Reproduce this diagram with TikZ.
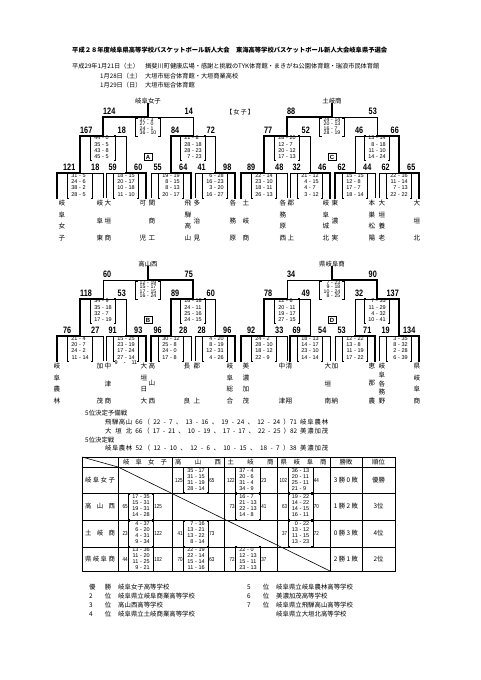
\documentclass[tikz,border=0pt]{standalone}
\usepackage{fontspec}
\usepackage{array}
\setmainfont{Liberation Sans}
\newfontfamily\jp{Noto Sans CJK JP}
\newfontfamily\cnd[FakeStretch=0.78]{Liberation Sans}
\newcolumntype{Q}{>{\setbox0=\hbox to 6.2pt\bgroup\hfil}l<{\egroup\ht0=0pt\dp0=0pt\box0}}
\newcolumntype{W}{>{\setbox0=\hbox to 6.2pt\bgroup}l<{\hfil\egroup\ht0=0pt\dp0=0pt\box0}}
\newcommand\stab[1]{\begin{tabular}{@{}Q@{\hspace{1.7pt}-\hspace{1.7pt}}W@{}}#1\end{tabular}}
\newcounter{nd}
\newcommand\tnode[3][]{\stepcounter{nd}\node[#1] (q\arabic{nd}) at (#2) {#3};}
% match lines: xL xR yh yb winner(0/1)
\newcommand\mt[5]{%
  \draw[thinl] (#1,#4) -- (#1,#3) -- (#2,#3) -- (#2,#4);
  \pgfmathsetmacro\mtw{#1+#5*(#2-#1)}%
  \pgfmathsetmacro\mtm{(#1+#2)/2}%
  \draw[thickl] (\mtw,#4) -- (\mtw,#3) -- (\mtm,#3);}
\newcommand\sL[3]{\tnode[scr,anchor=base west]{#1,#2}{#3}}
\newcommand\sR[3]{\tnode[scr,anchor=base east]{#1,#2}{#3}}
\newcommand\setb[4][setb]{%
  \stepcounter{nd}\edef\sbn{s\arabic{nd}}%
  \node[#1] (\sbn) at (#2,#3) {\stab{#4}};
  \draw[brk] ([xshift=2pt]\sbn.north west) -- (\sbn.north west) -- (\sbn.south west) -- ([xshift=2pt]\sbn.south west);
  \draw[brk] ([xshift=-2pt]\sbn.north east) -- (\sbn.north east) -- (\sbn.south east) -- ([xshift=-2pt]\sbn.south east);}
\newcommand\vname[2]{%
  \foreach \c [count=\i] in {#2} {\xdef\vnN{\i}}%
  \foreach \c [count=\i] in {#2} {%
    \pgfmathsetmacro\yy{203+(\i-1)*35/(\vnN-1)}%
    \stepcounter{nd}\node[jpn] (v\arabic{nd}) at (#1,\yy) {\c};}}
\newcommand\blk[7]{%
  \mt{103}{193}{117}{136}{#1}
  \mt{80}{126}{136}{173}{#2}
  \mt{171}{215}{136}{173}{#3}
  \mt{57}{103}{173}{198}{#4}
  \mt{106}{146}{173}{198}{#5}
  \mt{151}{191}{173}{198}{#6}
  \mt{195}{235}{173}{198}{#7}}
\newcommand\bscA[6]{%
  \sL{103}{114.5}{#1}\sR{193}{114.5}{#2}
  \sL{80}{133.7}{#3}\sR{126}{133.7}{#4}
  \sL{171}{133.7}{#5}\sR{215}{133.7}{#6}}
\newcommand\bscB[8]{%
  \sL{63}{170.7}{#1}\sR{99.5}{170.7}{#2}
  \sL{108.5}{170.7}{#3}\sR{142.5}{170.7}{#4}
  \sL{153.5}{170.7}{#5}\sR{187.5}{170.7}{#6}
  \sL{197.5}{170.7}{#7}\sR{231.5}{170.7}{#8}}
\newcommand\bsets[7]{%
  \setb[setf]{148}{127}{#1}
  \setb{103}{148}{#2}
  \setb{193}{148}{#3}
  \setb{80}{185.5}{#4}
  \setb{126}{185.5}{#5}
  \setb{171}{185.5}{#6}
  \setb{215}{185.5}{#7}}
% table cell: x y left rows right
\newcommand\tcell[5]{%
  \stepcounter{nd}\edef\sbn{c\arabic{nd}}%
  \node[tsetb] (\sbn) at (#1,#2) {\stab{#4}};
  \draw[brk] ([xshift=2pt]\sbn.north west) -- (\sbn.north west) -- (\sbn.south west) -- ([xshift=2pt]\sbn.south west);
  \draw[brk] ([xshift=-2pt]\sbn.north east) -- (\sbn.north east) -- (\sbn.south east) -- ([xshift=-2pt]\sbn.south east);
  \node[tnum,anchor=east] (\sbn-L) at (\sbn.west) {#3};
  \node[tnum,anchor=west] (\sbn-R) at (\sbn.east) {#5};}
\begin{document}
\begin{tikzpicture}[x=1pt,y=-1pt,
  thinl/.style={line width=0.6pt},
  thickl/.style={line width=2pt,line cap=rect},
  brk/.style={line width=0.45pt},
  tb/.style={line width=0.6pt},
  jpn/.style={font=\jp\fontsize{6.6}{7}\selectfont,inner sep=0pt},
  jpt/.style={font=\jp\fontsize{6.4}{7}\selectfont,inner sep=0pt},
  hd1/.style={font=\jp\bfseries\fontsize{6.3}{7}\selectfont,inner sep=0pt},
  hd/.style={font=\jp\fontsize{6.2}{7}\selectfont,inner sep=0pt},
  scr/.style={font=\cnd\bfseries\fontsize{9.3}{10}\selectfont,inner sep=0pt},
  setb/.style={font=\fontsize{5.5}{6.2}\selectfont,inner xsep=3.5pt,inner ysep=0pt},
  setf/.style={font=\fontsize{5.2}{4.5}\selectfont,inner xsep=3.5pt,inner ysep=0pt},
  tsetb/.style={font=\fontsize{5.5}{6.1}\selectfont,inner xsep=3.5pt,inner ysep=0pt},
  tnum/.style={font=\cnd\fontsize{5.8}{6}\selectfont,inner sep=0.6pt},
  lab/.style={draw,line width=0.5pt,font=\bfseries\fontsize{6}{6}\selectfont,inner sep=0.6pt,minimum width=7.5pt,minimum height=6.8pt},
  fp/.style={font=\jp\fontsize{6.4}{7}\selectfont,inner sep=0pt}]
\useasboundingbox (0,0) rectangle (481,680);
\fill[white] (0,0) rectangle (481,680);

% ---------- header
\node[hd1,anchor=west] (h1) at (72,50) {平成２８年度岐阜県高等学校バスケットボール新人大会　東海高等学校バスケットボール新人大会岐阜県予選会};
\node[hd,anchor=west] (h2a) at (72,66.5) {平成29年1月21日（土）};
\node[hd,anchor=west] (h2b) at (145,66.5) {揖斐川町健康広場・感謝と挑戦のTYK体育館・まきがね公園体育館・瑞浪市民体育館};
\node[hd,anchor=west] (h3a) at (100,76) {1月28日（土）};
\node[hd,anchor=west] (h3b) at (145,76) {大垣市総合体育館・大垣商業高校};
\node[hd,anchor=west] (h4a) at (100,85) {1月29日（日）};
\node[hd,anchor=west] (h4b) at (145,85) {大垣市総合体育館};
\node[hd] (wom) at (240,112) {【\,女\,子\,】};

% ---------- block A
\node[jpt] (tA) at (148,101) {岐阜女子};
\draw[thickl] (tA.south) -- (148,117);
\blk{0}{0}{0}{0}{1}{1}{1}
\bscA{124}{14}{167}{18}{84}{72}
\bscB{121}{18}{59}{60}{55}{64}{41}{98}
\bsets{37&3\\27&0\\24&1\\36&10}{44&0\\35&5\\43&8\\45&5}{21&8\\28&18\\28&23\\7&23}%
 {31&5\\24&6\\38&2\\28&5}{18&15\\20&17\\10&18\\11&10}{19&19\\8&15\\8&13\\20&17}{6&28\\16&23\\3&20\\16&27}
\node[lab] (lA) at (148,157) {A};
\vname{62}{岐,阜,女,子}
\vname{100}{岐,阜,東}
\vname{108}{大,垣,商}
\vname{143}{可,児}
\vname{152}{関,商,工}
\vname{188}{飛,騨,高,山}
\vname{197}{多,治,見}
\vname{233}{各,務,原}

% ---------- block C
\begin{scope}[shift={(184,0)}]
\node[jpt] (tC) at (148,101) {土岐商};
\draw[thickl] (tC.south) -- (148,117);
\blk{0}{0}{1}{0}{1}{0}{1}
\bscA{88}{53}{77}{52}{46}{66}
\bscB{89}{48}{32}{46}{62}{44}{62}{65}
\bsets{24&14\\20&13\\16&7\\28&19}{28&20\\12&7\\20&12\\17&13}{13&14\\8&18\\11&10\\14&24}%
 {22&14\\23&10\\18&11\\26&13}{21&12\\4&15\\4&7\\3&12}{15&15\\12&8\\17&7\\18&14}{22&16\\11&14\\7&13\\22&22}
\node[lab] (lC) at (148,157) {C};
\vname{62}{土,岐,商}
\vname{99}{各,務,原,西}
\vname{107}{郡,上}
\vname{142}{岐,阜,城,北}
\vname{151}{東,濃,実}
\vname{188}{本,巣,松,陽}
\vname{198}{大,垣,養,老}
\vname{233}{大,垣,北}
\end{scope}

% ---------- block B
\begin{scope}[shift={(0,163)}]
\node[jpt] (tB) at (148,101) {高山西};
\draw[thickl] (tB.south) -- (148,117);
\blk{1}{0}{0}{0}{1}{0}{1}
\bscA{60}{75}{118}{53}{89}{60}
\bscB{76}{27}{91}{93}{96}{28}{28}{96}
\bsets{12&19\\15&17\\17&15\\16&24}{34&9\\35&18\\32&7\\17&19}{16&18\\24&11\\25&16\\24&15}%
 {21&4\\20&7\\24&2\\11&14}{15&25\\23&19\\17&24\\27&14}{30&12\\25&8\\24&0\\17&8}{4&20\\8&19\\12&31\\4&26}
\node[tnum,font=\fontsize{5.5}{6}\selectfont] (ot) at (126,200) {9\hspace{6pt}-\hspace{6pt}11};
\node[lab] (lB) at (148,157) {B};
\vname{57}{岐,阜,農,林}
\vname{100}{加,茂}
\vname{108}{中,津,商}
\vname{144}{大,垣,日,大}
\vname{152}{高,山,西}
\vname{187}{長,良}
\vname{197}{郡,上}
\vname{230}{岐,阜,総,合}
\end{scope}

% ---------- block D
\begin{scope}[shift={(184,163)}]
\node[jpt] (tD) at (148,101) {県岐阜商};
\draw[thickl] (tD.south) -- (148,117);
\blk{1}{0}{1}{0}{0}{1}{1}
\bscA{34}{90}{78}{49}{32}{137}
\bscB{92}{33}{69}{54}{53}{71}{19}{134}
\bsets{7&23\\9&18\\10&24\\8&25}{12&6\\20&11\\19&17\\27&15}{7&35\\11&29\\4&32\\10&41}%
 {24&2\\28&10\\18&12\\22&9}{18&13\\14&17\\23&10\\14&14}{12&22\\13&8\\11&19\\17&22}{3&35\\8&32\\2&28\\6&39}
\node[lab] (lD) at (148,157) {D};
\vname{62}{美,濃,加,茂}
\vname{98}{中,津}
\vname{105}{清,翔}
\vname{144}{大,垣,南}
\vname{151}{加,納}
\vname{188}{恵,那,農}
\vname{198}{岐,阜,各,務,野}
\vname{233}{県,岐,阜,商}
\end{scope}

% ---------- 5th place
\node[fp,anchor=west] (f0) at (85,413) {5位決定予備戦};
\node[fp,anchor=west] (f1) at (105,422.5) {\makebox[223pt][l]{\makebox[27pt][s]{飛\hfill 騨\hfill 高\hfill 山}\hfill 66\,（\hfill 22\hfill -\hfill 7\hfill 、\hfill 13\hfill -\hfill 16\hfill 、\hfill 19\hfill -\hfill 24\hfill 、\hfill 12\hfill -\hfill 24\hfill ）71\hfill \makebox[28pt][s]{岐\hfill 阜\hfill 農\hfill 林}}};
\node[fp,anchor=west] (f2) at (105,431) {\makebox[223pt][l]{\makebox[27pt][s]{大\hfill 垣\hfill 北}\hfill 66\,（\hfill 17\hfill -\hfill 21\hfill 、\hfill 10\hfill -\hfill 19\hfill 、\hfill 17\hfill -\hfill 17\hfill 、\hfill 22\hfill -\hfill 25\hfill ）82\hfill \makebox[28pt][s]{美\hfill 濃\hfill 加\hfill 茂}}};
\node[fp,anchor=west] (f3) at (85,440) {5位決定戦};
\node[fp,anchor=west] (f4) at (105,448.5) {\makebox[223pt][l]{\makebox[27pt][s]{岐\hfill 阜\hfill 農\hfill 林}\hfill 52\,（\hfill 12\hfill -\hfill 10\hfill 、\hfill 12\hfill -\hfill 6\hfill 、\hfill 10\hfill -\hfill 15\hfill 、\hfill 18\hfill -\hfill 7\hfill ）38\hfill \makebox[28pt][s]{美\hfill 濃\hfill 加\hfill 茂}}};

% ---------- league table
\draw[tb] (82,457) rectangle (395,571);
\foreach \yy in {467,493,520,547} \draw[tb] (82,\yy) -- (395,\yy);
\foreach \xx in {118,172,224,277,330,362} \draw[tb] (\xx,457) -- (\xx,571);
\draw[tb] (82,457) -- (118,467);
\draw[tb] (118,467) -- (330,571);
\node[fp] (th1) at (145,462) {\makebox[44pt][s]{岐\hfill 阜\hfill 女\hfill 子}};
\node[fp] (th2) at (198,462) {\makebox[46pt][s]{高\hfill 山\hfill 西}};
\node[fp] (th3) at (250.5,462) {\makebox[46pt][s]{土\hfill 岐\hfill 商}};
\node[fp] (th4) at (303.5,462) {\makebox[46pt][s]{県\hfill 岐\hfill 阜\hfill 商}};
\node[fp] (th5) at (346,462) {勝敗};
\node[fp] (th6) at (378.5,462) {順位};
\node[fp] (tr1) at (100,480) {\makebox[30pt][s]{岐\hfill 阜\hfill 女\hfill 子}};
\node[fp] (tr2) at (100,506.5) {\makebox[30pt][s]{高\hfill 山\hfill 西}};
\node[fp] (tr3) at (100,533.5) {\makebox[30pt][s]{土\hfill 岐\hfill 商}};
\node[fp] (tr4) at (100,559) {\makebox[30pt][s]{県\hfill 岐\hfill 阜\hfill 商}};
\tcell{196}{480}{125}{35&17\\31&15\\31&19\\28&14}{65}
\tcell{248}{480}{122}{37&4\\20&6\\31&4\\34&9}{23}
\tcell{300.5}{480}{102}{36&13\\20&11\\25&11\\21&9}{44}
\tcell{141}{506.5}{65}{17&35\\15&31\\19&31\\14&28}{125}
\tcell{248}{506.5}{73}{16&7\\21&13\\22&13\\14&8}{41}
\tcell{300.5}{506.5}{63}{19&22\\14&22\\14&15\\16&11}{70}
\tcell{141}{533.5}{23}{4&37\\6&20\\4&31\\9&34}{122}
\tcell{196}{533.5}{41}{7&16\\13&21\\13&22\\8&14}{73}
\tcell{300.5}{533.5}{37}{0&22\\13&12\\11&15\\13&23}{72}
\tcell{141}{559}{44}{13&36\\11&20\\11&25\\9&21}{102}
\tcell{196}{559}{70}{22&19\\22&14\\15&14\\11&16}{63}
\tcell{248}{559}{72}{22&0\\12&13\\15&11\\23&13}{37}
\node[fp] (w1) at (346,480) {3 勝 0 敗};
\node[fp] (w2) at (346,506.5) {1 勝 2 敗};
\node[fp] (w3) at (346,533.5) {0 勝 3 敗};
\node[fp] (w4) at (346,559) {2 勝 1 敗};
\node[fp] (r1) at (378.5,480) {優勝};
\node[fp] (r2) at (378.5,506.5) {3位};
\node[fp] (r3) at (378.5,533.5) {4位};
\node[fp] (r4) at (378.5,559) {2位};

% ---------- final ranking
\node[fp,anchor=west] (k1) at (89,587) {\makebox[22pt][s]{優\hfill 勝}};
\node[fp,anchor=west] (k2) at (89,596) {\makebox[22pt][s]{2\hfill 位}};
\node[fp,anchor=west] (k3) at (89,605) {\makebox[22pt][s]{3\hfill 位}};
\node[fp,anchor=west] (k4) at (89,614) {\makebox[22pt][s]{4\hfill 位}};
\node[fp,anchor=west] (n1) at (118,587) {岐阜女子高等学校};
\node[fp,anchor=west] (n2) at (118,596) {岐阜県立岐阜商業高等学校};
\node[fp,anchor=west] (n3) at (118,605) {高山西高等学校};
\node[fp,anchor=west] (n4) at (118,614) {岐阜県立土岐商業高等学校};
\node[fp,anchor=west] (k5) at (247,587) {\makebox[22pt][s]{5\hfill 位}};
\node[fp,anchor=west] (k6) at (247,596) {\makebox[22pt][s]{6\hfill 位}};
\node[fp,anchor=west] (k7) at (247,605) {\makebox[22pt][s]{7\hfill 位}};
\node[fp,anchor=west] (n5) at (276,587) {岐阜県立岐阜農林高等学校};
\node[fp,anchor=west] (n6) at (276,596) {美濃加茂高等学校};
\node[fp,anchor=west] (n7) at (276,605) {岐阜県立飛騨高山高等学校};
\node[fp,anchor=west] (n8) at (276,614) {岐阜県立大垣北高等学校};
\end{tikzpicture}
\end{document}
